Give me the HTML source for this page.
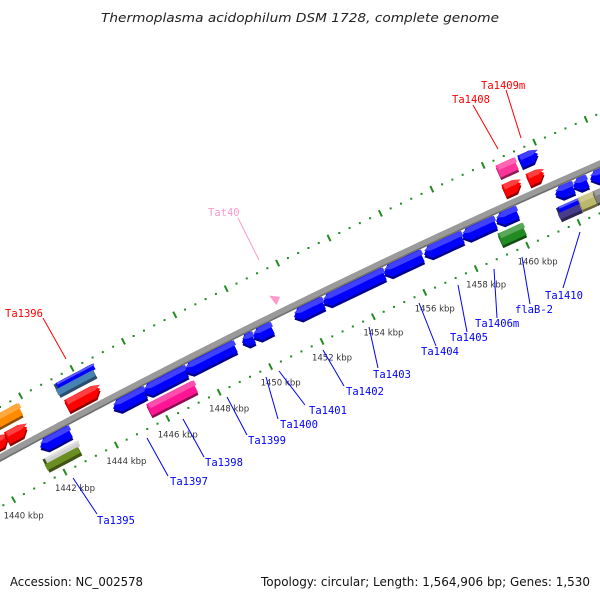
<!DOCTYPE html>
<html><head><meta charset="utf-8"><style>
html,body{margin:0;padding:0;background:#fff;}
svg{display:block;}
</style></head><body>
<svg id="map" width="600" height="600" viewBox="0 0 600 600" xmlns="http://www.w3.org/2000/svg">
<text x="300" y="22" text-anchor="middle" font-family="DejaVu Sans, sans-serif" font-style="italic" font-size="12.5" fill="#222" textLength="398" lengthAdjust="spacingAndGlyphs">Thermoplasma acidophilum DSM 1728, complete genome</text>
<g id="layer"></g>
<text x="10" y="586" font-family="DejaVu Sans, sans-serif" font-size="12" fill="#111" textLength="133" lengthAdjust="spacingAndGlyphs">Accession: NC_002578</text>
<text x="590" y="586" text-anchor="end" font-family="DejaVu Sans, sans-serif" font-size="12" fill="#111" textLength="329" lengthAdjust="spacingAndGlyphs">Topology: circular; Length: 1,564,906 bp; Genes: 1,530</text>
</svg>
<script>
// ---- data ----
const tickKbp = [1440,1442,1444,1446,1448,1450,1452,1454,1456,1458,1460];
const tickLabels = ["1440 kbp","1442 kbp","1444 kbp","1446 kbp","1448 kbp","1450 kbp","1452 kbp","1454 kbp","1456 kbp","1458 kbp","1460 kbp"];
const geneStart = [1441.03,1441.26,1443.87,1445.07,1446.67,1445.27,1448.89,1449.32,1450.91,1452.04,1454.41,1455.97,1457.45,1458.77,1458.93,1461.07,1461.77,1462.43,1461.22,1462.04,1462.62,
  1441.69,1442.08,1439.08,1438.70,1439.74,1450.05,1458.85,1459.70,1459.08,1460.02];
const geneEnd = [1442.19,1442.54,1445.11,1446.71,1448.61,1447.06,1449.32,1450.05,1452.04,1454.41,1455.89,1457.45,1458.73,1459.59,1459.86,1461.77,1462.31,1463.20,1462.04,1462.62,1463.40,
  1443.13,1443.36,1440.25,1439.78,1440.52,1450.37,1459.55,1460.40,1459.74,1460.64];
const geneRow = [1,2,1,1,1,2,1,1,1,1,1,1,1,1,2,1,1,1,2,2,2,
  -2,-1,-2,-1,-1,-1,-2,-2,-1,-1];
const geneDir = ["L","N","L","L","L","N","L","L","L","L","L","L","L","L","N","L","L","L","N","N","N",
  "N","R","N","R","R","T","N","R","R","R"];
const geneColor = ["#0000ff","stack:#d0d0d0:#6b8e23","#0000ff","#0000ff","#0000ff","#ff1493","#0000ff","#0000ff","#0000ff","#0000ff","#0000ff","#0000ff","#0000ff","#0000ff","#228b22","#0000ff","#0000ff","#0000ff","stack:#0000ff:#483d8b","#bdb76b","#808080",
  "stack:#0000ff:#4682b4","#ff0000","#ff8c00","#ff0000","#ff0000","#ff99cc","#ff3399","#0000ff","#ff0000","#ff0000"];
const labelText = ["Ta1395","Ta1397","Ta1398","Ta1399","Ta1400","Ta1401","Ta1402","Ta1403","Ta1404","Ta1405","Ta1406m","flaB-2","Ta1410","Ta1396","Tat40","Ta1408","Ta1409m"];
const labelColor = ["#0000ff","#0000ff","#0000ff","#0000ff","#0000ff","#0000ff","#0000ff","#0000ff","#0000ff","#0000ff","#0000ff","#0000ff","#0000ff","#ff0000","#ff99cc","#ff0000","#ff0000"];
const labelX = [97,170,205,248,280,309,346,373,421,450,475,515,545,5,208,452,481];
const labelY = [520,481,462,440,424,410,391,374,351,337,323,309,295,313,212,99,85];
const leadFrom = [[73,478],[147,438],[183,419],[227,397],[266,377],[279,371],[323,350],[369,327],[419,303],[458,285],[494,269],[522,257],[580,232],[43,318],[238,218],[473,105],[506,90]];
const leadTo = [[97,514],[168,476],[204,457],[247,435],[278,419],[305,405],[344,386],[378,368],[436,346],[467,332],[497,318],[530,304],[563,288],[66,359],[259,260],[498,149],[521,138]];

// ---- geometry ----
const NS="http://www.w3.org/2000/svg";
const layer=document.getElementById('layer');
function X(k){return 65+(k-1442)*25.7;}
function bb(x){return 457-0.543*x+8.9e-5*x*x;}
function nrm(x){const s=-0.543+1.78e-4*x;const L=Math.hypot(1,s);return [-s/L,1/L];}
const rowOff={1:12,2:32,"-1":-15,"-2":-37};
function mk(tag,attrs){const e=document.createElementNS(NS,tag);for(const a in attrs)e.setAttribute(a,attrs[a]);layer.appendChild(e);return e;}
function pt(x,off,d){const n=nrm(x);return [x+n[0]*d,bb(x)+off+n[1]*d];}
function shade(hex,f){const c=hex.replace('#','');let r=parseInt(c.substr(0,2),16),g=parseInt(c.substr(2,2),16),b=parseInt(c.substr(4,2),16);
 if(f>0){r=r+(255-r)*f;g=g+(255-g)*f;b=b+(255-b)*f;}else{r*=1+f;g*=1+f;b*=1+f;}
 return 'rgb('+Math.round(r)+','+Math.round(g)+','+Math.round(b)+')';}
function poly(pts){return pts.map(p=>p[0].toFixed(1)+','+p[1].toFixed(1)).join(' ');}

// backbone
let dpath='';for(let x=-5;x<=605;x+=5){dpath+=(x===-5?'M':'L')+x+','+bb(x).toFixed(1);}
let e;
e=mk('path',{d:dpath,stroke:'#6f6f6f',"stroke-width":7,fill:'none',transform:'translate(0,1)'});


e=mk('path',{d:dpath,stroke:'#9a9a9a',"stroke-width":5.5,fill:'none'});



// tick tracks
function track(off,dx,name){
 for(let k=1436;k<=1466.01;k+=0.4){
  const kr=Math.round(k*10)/10;
  const x=X(kr)+dx; if(x<-5||x>605)continue;
  const major=Math.abs(kr/2-Math.round(kr/2))<0.01;
  const c=[x,bb(x)+off];
  if(major){const n=nrm(x);
   e=mk('line',{x1:c[0]-n[0]*3.5,y1:c[1]-n[1]*3.5,x2:c[0]+n[0]*3.5,y2:c[1]+n[1]*3.5,stroke:'#228b22',"stroke-width":2});
   
   
  } else {
   e=mk('rect',{x:c[0]-1,y:c[1]-1,width:2,height:2,fill:'#228b22'});
   
   
  }
 }
}
track(-50,7,'upper-track');
track(50,0,'lower-track');

// tick labels
tickKbp.forEach((k,i)=>{const x=X(k);
 e=mk('text',{x:x+10,y:bb(x)+50+19,"text-anchor":'middle',"font-family":'DejaVu Sans, sans-serif',"font-size":8.5,fill:'#333'});
 e.textContent=tickLabels[i];
 
 
});

// genes
function drawBody(x1,x2,off,h,dir){
 const a=Math.min(6,(x2-x1)*0.45);
 const top=[],bot=[];const b1=dir==='L'?x1+a:x1,b2=dir==='R'?x2-a:x2;
 const N=6;for(let i=0;i<=N;i++){const x=b1+(b2-b1)*i/N;top.push(pt(x,off,-h/2));bot.push(pt(x,off,h/2));}
 let pts=[];
 if(dir==='L')pts.push(pt(x1,off,0));
 pts=pts.concat(top);
 if(dir==='R')pts.push(pt(x2,off,0));
 pts=pts.concat(bot.reverse());
 return pts;
}
geneStart.forEach((ks,i)=>{
 const x1=X(ks),x2=X(geneEnd[i]);const off=rowOff[geneRow[i]];const dir=geneDir[i];const col=geneColor[i];
 const g=document.createElementNS(NS,'g');layer.appendChild(g);
 
 
 const add=(pts,fill)=>{const p=document.createElementNS(NS,'polygon');p.setAttribute('points',poly(pts));p.setAttribute('fill',fill);g.appendChild(p);};
 if(dir==='T'){add([pt(x1,off,-6),pt(x2,off,0),pt(x1+2,off,6)],col);return;}
 const h=13;
 if(col.startsWith('stack:')){const c=col.split(':');
  const sh=drawBody(x1,x2,off,h+2,dir).map(p=>[p[0],p[1]+2]);add(sh,shade(c[2],-0.4));
  add(drawBody(x1,x2,off-h/4,h/2,dir),c[1]);
  add(drawBody(x1,x2,off+h/4,h/2,dir),c[2]);
  add(drawBody(x1,x2,off-h/2+1,2,dir),shade(c[1],0.35));
  return;}
 const sh=drawBody(x1,x2,off,h,dir).map(p=>[p[0]+0.5,p[1]+2.5]);add(sh,shade(col,-0.45));
 add(drawBody(x1,x2,off,h,dir),col);
 add(drawBody(x1,x2,off-h*0.3,h*0.4,dir),shade(col,0.25));
});

// labels and leaders
labelText.forEach((t,i)=>{
 e=mk('line',{x1:leadFrom[i][0],y1:leadFrom[i][1],x2:leadTo[i][0],y2:leadTo[i][1],stroke:labelColor[i],"stroke-width":1});
 
 
 e=mk('text',{x:labelX[i],y:labelY[i]+4,"font-family":'DejaVu Sans Mono, monospace',"font-size":10.5,fill:labelColor[i]});
 e.textContent=t;
 
 
});
</script>
</body></html>
